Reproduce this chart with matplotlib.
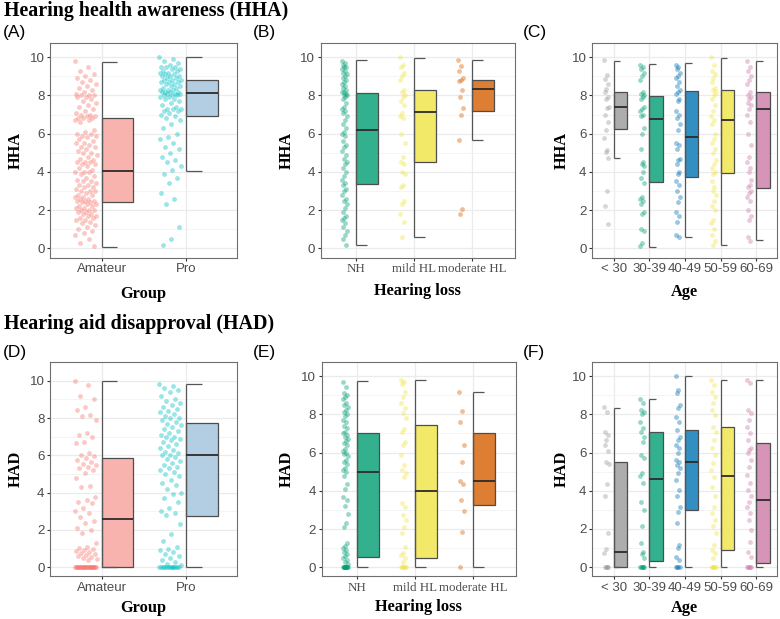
import matplotlib.pyplot as plt
import matplotlib.transforms as mtransforms
import numpy as np

# ---- data ----
group_cats = ["Amateur", "Pro"]
hl_cats = ["NH", "mild HL", "moderate HL"]
age_cats = ["< 30", "30-39", "40-49", "50-59", "60-69"]

hha_amateur = [9.8, 9.5, 9.3, 9.1, 9.0, 8.9, 8.8, 8.7, 8.6, 8.5, 8.4, 8.3, 8.2, 8.1, 8.0, 8.0, 8.0,
               7.9, 7.9, 7.8, 7.7, 7.6, 7.5, 7.4, 7.3, 7.2, 7.1, 7.0, 7.0, 6.9, 6.9, 6.8, 6.8, 6.8,
               6.7, 6.7, 6.6, 6.2, 6.1, 6.0, 6.0, 5.9, 5.9, 5.8, 5.7, 5.6, 5.5, 5.5, 5.4, 5.3, 5.3,
               5.2, 5.1, 5.0, 5.0, 4.9, 4.8, 4.7, 4.6, 4.5, 4.5, 4.5, 4.4, 4.4, 4.3, 4.2, 4.1, 4.0,
               4.0, 4.0, 3.9, 3.8, 3.7, 3.6, 3.5, 3.5, 3.4, 3.3, 3.3, 3.2, 3.2, 3.1, 3.0, 3.0, 3.0,
               2.9, 2.8, 2.8, 2.7, 2.7, 2.6, 2.6, 2.5, 2.5, 2.5, 2.4, 2.4, 2.3, 2.3, 2.2, 2.2, 2.1,
               2.1, 2.0, 2.0, 2.0, 1.9, 1.9, 1.8, 1.8, 1.7, 1.7, 1.6, 1.6, 1.5, 1.5, 1.4, 1.3, 1.2,
               1.1, 1.0, 0.9, 0.8, 0.7, 0.5, 0.3, 0.1]
hha_pro = [10.0, 9.9, 9.8, 9.7, 9.6, 9.5, 9.5, 9.5, 9.4, 9.4, 9.3, 9.3, 9.2, 9.2, 9.1, 9.1, 9.0,
           9.0, 9.0, 8.9, 8.9, 8.8, 8.8, 8.8, 8.7, 8.7, 8.7, 8.6, 8.6, 8.5, 8.5, 8.4, 8.4, 8.3,
           8.3, 8.3, 8.2, 8.2, 8.2, 8.2, 8.1, 8.1, 8.1, 8.0, 8.0, 8.0, 7.9, 7.9, 7.8, 7.8, 7.7,
           7.6, 7.5, 7.4, 7.3, 7.3, 7.3, 7.2, 7.2, 7.1, 7.0, 6.9, 6.8, 6.7, 6.5, 6.3, 6.0, 5.8,
           5.7, 5.5, 5.3, 5.2, 5.0, 4.8, 4.6, 4.5, 4.3, 4.1, 3.9, 3.7, 3.4, 2.9, 2.6, 2.3, 1.1,
           0.5, 0.2]
hha_nh = [9.8, 9.7, 9.6, 9.5, 9.5, 9.4, 9.3, 9.2, 9.1, 9.0, 8.9, 8.8, 8.7, 8.6, 8.5, 8.4, 8.3,
          8.2, 8.2, 8.1, 8.0, 8.0, 7.9, 7.8, 7.6, 7.4, 7.3, 7.2, 7.1, 6.9, 6.7, 6.5, 6.3, 6.1,
          6.0, 5.9, 5.6, 5.4, 5.3, 5.1, 4.9, 4.7, 4.5, 4.4, 4.2, 4.0, 3.8, 3.6, 3.4, 3.3, 3.1,
          3.0, 2.8, 2.6, 2.5, 2.3, 2.1, 1.9, 1.7, 1.6, 1.5, 1.3, 1.1, 0.9, 0.7, 0.5, 0.2]
hha_mild = [10.0, 9.6, 9.5, 9.2, 9.0, 8.8, 8.3, 8.2, 8.0, 7.9, 7.7, 7.5, 7.1, 6.9, 6.8, 6.0,
            5.5, 4.8, 4.5, 4.4, 4.0, 3.9, 3.3, 3.2, 2.5, 2.3, 1.8, 1.4, 0.6]
hha_moderate = [9.84, 9.55, 9.27, 8.92, 8.8, 8.75, 8.31, 7.93, 7.35, 7.0, 5.65, 2.06, 1.78]
hha_u30 = [9.84, 9.06, 8.88, 8.62, 8.36, 8.19, 7.93, 7.84, 7.4, 7.32, 6.97, 6.62, 6.18, 5.75,
           5.14, 5.05, 4.74, 3.0, 2.2, 1.25]
hha_30s = [9.6, 9.5, 9.4, 9.2, 9.0, 8.8, 8.2, 8.1, 8.0, 7.9, 7.8, 7.4, 7.3, 7.2, 7.0, 6.9, 6.3,
           6.0, 5.2, 4.5, 4.4, 4.3, 4.0, 3.7, 3.4, 2.7, 2.6, 2.5, 2.3, 1.9, 1.8, 1.0, 0.9, 0.3, 0.1]
hha_40s = [9.6, 9.5, 9.4, 9.2, 9.0, 8.9, 8.7, 8.5, 8.3, 8.2, 8.1, 7.8, 7.7, 7.2, 7.0, 6.8, 6.5,
           6.2, 5.5, 5.4, 5.2, 4.7, 4.6, 4.4, 4.0, 3.9, 3.5, 3.3, 3.0, 2.7, 2.4, 1.9, 1.7, 1.4,
           0.7, 0.6]
hha_50s = [10.0, 9.6, 9.3, 9.1, 8.9, 8.7, 8.4, 8.3, 8.2, 8.0, 7.8, 7.5, 7.2, 6.9, 6.7, 6.5, 6.0,
           5.7, 5.5, 5.2, 5.0, 4.6, 4.4, 4.2, 4.0, 3.9, 3.5, 3.2, 3.0, 2.8, 2.5, 2.2, 2.0, 1.5,
           1.3, 1.0, 0.7, 0.4, 0.2]
hha_60s = [9.8, 9.5, 9.3, 9.0, 8.8, 8.6, 8.2, 8.0, 7.9, 7.8, 7.6, 7.5, 7.3, 7.0, 6.6, 6.0, 5.4,
           4.8, 4.5, 4.2, 4.0, 3.6, 3.3, 3.2, 3.0, 2.9, 2.7, 2.5, 2.0, 1.7, 1.5, 0.6, 0.4]

had_amateur = [10.0, 9.77, 9.18, 9.0, 8.61, 8.43, 8.16, 8.1, 7.9, 7.18, 7.1, 7.0, 6.73, 6.64,
               6.14, 6.02, 5.95, 5.84, 5.75, 5.66, 5.55, 5.48, 5.4, 5.3, 5.2, 5.04, 4.77, 4.36,
               4.3, 3.75, 3.61, 3.5, 3.43, 3.16, 3.0, 2.89, 2.71, 2.5, 2.36, 2.09, 2.0, 1.82,
               1.28, 1.1, 1.05, 1.0, 0.92, 0.85, 0.8, 0.75, 0.7, 0.65, 0.6, 0.57, 0.5, 0.45, 0.39,
               0, 0, 0, 0, 0, 0, 0, 0, 0, 0, 0, 0, 0, 0, 0, 0, 0, 0, 0, 0, 0, 0, 0, 0, 0, 0]
had_pro = [9.8, 9.7, 9.6, 9.5, 9.4, 9.2, 9.0, 8.9, 8.8, 8.7, 8.6, 8.5, 8.4, 8.3, 8.2, 8.1, 8.0,
           8.0, 7.9, 7.8, 7.7, 7.6, 7.5, 7.4, 7.3, 7.2, 7.1, 7.0, 7.0, 6.9, 6.8, 6.7, 6.6, 6.5,
           6.4, 6.3, 6.2, 6.1, 6.0, 6.0, 5.9, 5.8, 5.7, 5.6, 5.5, 5.4, 5.3, 5.2, 5.1, 5.0, 4.9,
           4.7, 4.5, 4.4, 4.2, 4.0, 3.9, 3.7, 3.5, 3.2, 3.0, 2.9, 2.8, 2.3, 1.8, 1.4, 1.1, 1.0,
           0.9, 0.8, 0.7, 0.6, 0.5, 0.4, 0.3, 0.2, 0.1, 0, 0, 0, 0, 0, 0, 0, 0, 0, 0, 0, 0, 0, 0]
had_nh = [9.7, 9.45, 9.1, 9.0, 8.9, 8.8, 8.6, 8.5, 8.4, 8.2, 8.1, 8.0, 7.9, 7.7, 7.6, 7.4, 7.3,
          7.1, 7.0, 6.9, 6.8, 6.7, 6.6, 6.5, 6.4, 6.2, 6.1, 6.0, 5.9, 5.8, 5.6, 5.5, 5.4, 5.2,
          5.1, 5.0, 4.8, 4.35, 4.1, 3.7, 3.5, 3.2, 2.8, 2.3, 2.1, 1.3, 1.1, 1.0, 0.9, 0.8, 0.7,
          0.6, 0.5, 0.4, 0.3, 0.2, 0, 0, 0, 0, 0, 0, 0, 0, 0, 0, 0, 0]
had_mild = [9.8, 9.7, 9.6, 9.18, 8.92, 8.57, 8.31, 8.05, 7.79, 7.21, 7.09, 6.57, 6.4, 5.87, 5.35,
            5.09, 4.91, 4.74, 3.35, 3.17, 2.74, 2.48, 2.13, 1.81, 1.08, 0.77, 0.64, 0.47, 0.3,
            0, 0, 0, 0, 0, 0]
had_moderate = [9.16, 8.15, 7.6, 6.4, 5.52, 4.5, 4.35, 3.52, 2.96, 1.85, 0.0]
had_u30 = [8.36, 8.13, 7.09, 6.92, 6.66, 6.4, 6.1, 5.52, 5.4, 4.35, 3.73, 1.81, 0.94, 0.73,
           0, 0, 0, 0, 0]
had_30s = [8.78, 8.6, 8.22, 8.13, 8.01, 7.61, 7.26, 7.09, 6.79, 6.57, 5.87, 5.7, 4.94, 4.77, 4.39,
           3.43, 2.99, 2.13, 1.29, 0.77, 0.7, 0.47, 0, 0, 0, 0, 0, 0]
had_40s = [10.0, 9.27, 9.1, 8.48, 8.31, 7.87, 7.61, 7.18, 6.83, 6.66, 6.4, 6.22, 5.96, 5.61, 5.52,
           5.35, 5.18, 4.91, 4.57, 4.05, 3.73, 3.17, 2.91, 2.3, 1.17, 1.0, 0.56, 0.39, 0, 0, 0, 0]
had_50s = [9.79, 9.53, 9.18, 8.92, 8.57, 8.22, 7.96, 7.35, 7.09, 6.66, 6.22, 5.87, 5.44, 5.09,
           4.74, 4.22, 3.7, 3.17, 2.82, 2.48, 2.13, 1.78, 1.17, 0.91, 0.73, 0.47, 0, 0, 0, 0, 0, 0]
had_60s = [9.79, 9.62, 8.22, 8.05, 7.7, 7.35, 7.0, 6.66, 6.22, 6.14, 5.96, 5.61, 5.26, 4.83, 4.39,
           4.05, 3.7, 3.43, 3.17, 2.82, 2.48, 1.95, 1.34, 0.82, 0.56, 0, 0, 0, 0, 0]

# box stats per category: (whisker low, q1, median, q3, whisker high)
hha_group_box = [(0.07, 2.45, 4.07, 6.8, 9.75), (4.07, 6.9, 8.12, 8.8, 10.0)]
hha_hl_box = [(0.17, 3.36, 6.17, 8.13, 9.83), (0.6, 4.53, 7.11, 8.31, 9.96), (5.65, 7.18, 8.33, 8.83, 9.84)]
hha_age_box = [(4.74, 6.26, 7.39, 8.19, 9.82), (0.07, 3.47, 6.79, 7.96, 9.65), (0.61, 3.71, 5.8, 8.22, 9.7),
               (0.18, 3.95, 6.74, 8.31, 9.96), (0.44, 3.14, 7.27, 8.17, 9.82)]
had_group_box = [(0, 0, 2.61, 5.87, 10.0), (0, 2.77, 6.0, 7.72, 9.8)]
had_hl_box = [(0, 0.56, 5.0, 7.04, 9.72), (0, 0.49, 4.0, 7.44, 9.81), (0, 3.24, 4.5, 7.0, 9.16)]
had_age_box = [(0, 0, 0.77, 5.52, 8.35), (0, 0.33, 4.62, 7.07, 8.78), (0, 2.98, 5.52, 7.16, 10.0),
               (0, 0.89, 4.79, 7.32, 9.79), (0, 0.24, 3.5, 6.49, 9.79)]

# ---- style ----
GROUP_PT = ["#F8766D", "#00BFC4"]
GROUP_BOX = ["#F9B3AE", "#B3CDE3"]
HL_PT = ["#009E73", "#F0E442", "#D55E00"]
HL_BOX = ["#33B18F", "#F3E968", "#DD7E33"]
AGE_PT = ["#999999", "#009E73", "#0072B2", "#F0E442", "#CC79A7"]
AGE_BOX = ["#ADADAD", "#33B18F", "#338EC1", "#F3E968", "#D694B9"]

SERIF = "Liberation Serif"
SANS = "Liberation Sans"
GREY = "#4D4D4D"

W, H = 780, 619
fig = plt.figure(figsize=(W / 100, H / 100), dpi=100)


def fx(x):
    return x / W


def fy(y):
    return 1 - y / H


def panel(box_px, cats, series, boxes, pt_cols, box_cols, xlim, ylim, jit_c, jit_w,
          ylabel, xlabel, tick_family, ylab_x, xlab_y):
    l, t, r, b = box_px
    ax = fig.add_axes([fx(l), fy(b), (r - l) / W, (b - t) / H])
    xs = np.arange(1, len(cats) + 1)
    for x, vals, st, pc, bc in zip(xs, series, boxes, pt_cols, box_cols):
        n = len(vals)
        off = ((np.arange(n) * 0.6180339887) % 1.0 - 0.5) * 2 * jit_w
        ax.scatter(x + jit_c + off, vals, s=12, color=pc, alpha=0.4, linewidths=0, zorder=3)
        lo, q1, med, q3, hi = st
        ax.bxp([dict(whislo=lo, q1=q1, med=med, q3=q3, whishi=hi)], positions=[x + 0.185],
               widths=0.37, showfliers=False, showcaps=False, patch_artist=True,
               manage_ticks=False, whiskerprops=dict(visible=False),
               boxprops=dict(facecolor=bc, edgecolor="#4D4D4D", linewidth=0.9),
               medianprops=dict(color="#2B2B2B", linewidth=1.3), zorder=3)
        ax.vlines(x, lo, hi, color="#555555", lw=0.9, zorder=3)
        ax.hlines([lo, hi], x, x + 0.185, color="#555555", lw=0.9, zorder=3)
    ax.set_xlim(*xlim)
    ax.set_ylim(*ylim)
    ax.set_xticks(xs)
    ax.set_xticklabels(cats, family=tick_family, color=GREY,
                       fontsize=9.3 if tick_family == SERIF else 9.5)
    if tick_family == SERIF:
        # labels in the original sit slightly apart from their ticks
        for lab, dx in zip(ax.get_xticklabels(), [0, -4, 5]):
            lab.set_transform(lab.get_transform() +
                              mtransforms.ScaledTranslation(dx / 100, 0, fig.dpi_scale_trans))
    ax.set_yticks([0, 2, 4, 6, 8, 10])
    ax.set_yticks([1, 3, 5, 7, 9], minor=True)
    ax.tick_params(axis="y", which="minor", length=0)
    ax.tick_params(which="major", length=2.5, width=0.8, color="#333333", pad=1.5)
    for lab in ax.get_yticklabels():
        lab.set_family(SANS)
        lab.set_color(GREY)
        lab.set_fontsize(9.6)
    ax.grid(True, which="major", color="#EBEBEB", lw=0.9, zorder=0)
    ax.grid(True, which="minor", axis="y", color="#F3F3F3", lw=0.6, zorder=0)
    ax.set_axisbelow(True)
    for s in ax.spines.values():
        s.set_color("#6E6E6E")
        s.set_linewidth(0.8)
    ax.set_ylabel(ylabel, family=SERIF, fontweight="bold", fontsize=11.8, va="center")
    ax.yaxis.set_label_coords(fx(ylab_x), fy((t + b) / 2), transform=fig.transFigure)
    ax.set_xlabel(xlabel, family=SERIF, fontweight="bold", fontsize=11.8, va="center")
    ax.xaxis.set_label_coords(fx((l + r) / 2), fy(xlab_y), transform=fig.transFigure)
    return ax


top_ylim = (-0.49, 10.76)

panel((50, 42.7, 237, 257.7), group_cats, [hha_amateur, hha_pro], hha_group_box,
      GROUP_PT, GROUP_BOX, (0.387, 2.6), top_ylim, -0.19, 0.13, "HHA", "Group", SANS, 16, 294)
panel((320.5, 42.7, 515, 257.7), hl_cats, [hha_nh, hha_mild, hha_moderate], hha_hl_box,
      HL_PT, HL_BOX, (0.39, 3.73), top_ylim, -0.2, 0.045, "HHA", "Hearing loss", SERIF, 287, 291)
panel((592, 42.7, 777, 257.7), age_cats, [hha_u30, hha_30s, hha_40s, hha_50s, hha_60s],
      hha_age_box, AGE_PT, AGE_BOX, (0.39, 5.58), top_ylim, -0.2, 0.065, "HHA", "Age", SANS, 562, 292)

panel((50, 361.7, 237, 576), group_cats, [had_amateur, had_pro], had_group_box,
      GROUP_PT, GROUP_BOX, (0.387, 2.6), (-0.47, 11.02), -0.19, 0.13, "HAD", "Group", SANS, 16, 608)
panel((321.5, 361.7, 516, 576), hl_cats, [had_nh, had_mild, had_moderate], had_hl_box,
      HL_PT, HL_BOX, (0.39, 3.73), (-0.45, 10.75), -0.2, 0.045, "HAD", "Hearing loss", SERIF, 287, 607)
panel((592, 361.7, 777, 576), age_cats, [had_u30, had_30s, had_40s, had_50s, had_60s],
      had_age_box, AGE_PT, AGE_BOX, (0.39, 5.58), (-0.46, 10.75), -0.2, 0.065, "HAD", "Age", SANS, 562, 608)

# titles and panel letters
fig.text(fx(4), fy(11), "Hearing health awareness (HHA)", family=SERIF, fontweight="bold",
         fontsize=14.4, va="center", ha="left")
fig.text(fx(4), fy(324), "Hearing aid disapproval (HAD)", family=SERIF, fontweight="bold",
         fontsize=14.4, va="center", ha="left")
for lab, x, y in [("(A)", 3, 32), ("(B)", 253, 32), ("(C)", 523, 32),
                  ("(D)", 3, 353), ("(E)", 253, 353), ("(F)", 523, 353)]:
    fig.text(fx(x), fy(y), lab, family=SANS, fontsize=12.5, va="center", ha="left")

fig.savefig("out.png", dpi=100)
